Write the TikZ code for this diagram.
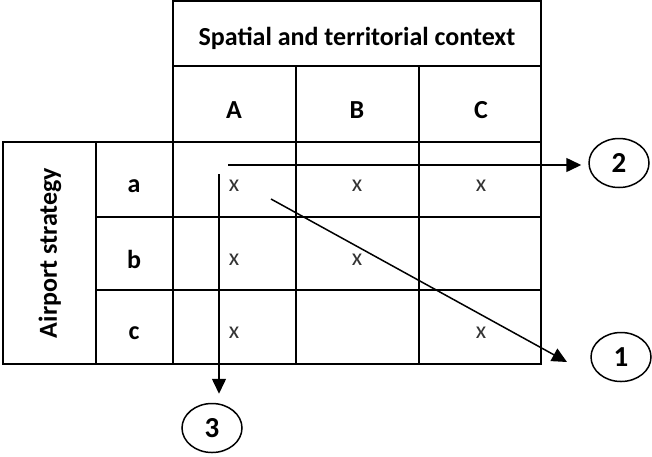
\documentclass[tikz,border=0pt]{standalone}
\usepackage{fontspec}
\setmainfont{Carlito}
\usetikzlibrary{arrows.meta,shapes.geometric}
\begin{document}
\begin{tikzpicture}[x=1pt,y=-1pt,line width=2pt]
\tikzstyle{every node}=[inner sep=1pt, font=\fontsize{26}{30}\selectfont\bfseries]
\tikzstyle{cross}=[font=\fontsize{24}{28}\selectfont, text=black!80]
\tikzstyle{num}=[draw, ellipse, line width=1.5pt, minimum width=60pt, minimum height=49pt, font=\fontsize{29}{32}\selectfont\bfseries]
\tikzstyle{link}=[line width=1.5pt, -{Triangle[length=15pt,width=14pt]}]
\useasboundingbox (0,0) rectangle (652,456);
% grid
\draw (173,1) rectangle (541,364);
\draw (3,142) rectangle (173,364);
\draw (173,66) -- (541,66);
\draw (173,142) -- (541,142);
\draw (96,217) -- (541,217);
\draw (96,290) -- (541,290);
\draw (96,142) -- (96,364);
\draw (296,66) -- (296,364);
\draw (419,66) -- (419,364);
% headers
\node (ctx) at (357,38) {Spatial and territorial context};
\node (cA) at (234,110) {A};
\node (cB) at (357,110) {B};
\node (cC) at (481,110) {C};
\node (air) at (50,253) [rotate=90] {Airport strategy};
\node (ra) at (134,186) {a};
\node (rb) at (134,259) {b};
\node (rc) at (134,333) {c};
% crosses
\node (xaA) at (234,186) [cross] {x};
\node (xaB) at (357,186) [cross] {x};
\node (xaC) at (481,186) [cross] {x};
\node (xbA) at (234,260) [cross] {x};
\node (xbB) at (357,260) [cross] {x};
\node (xcA) at (234,333) [cross] {x};
\node (xcC) at (481,333) [cross] {x};
% directions
\node (n1) at (621,357) [num] {1};
\node (n2) at (619,163) [num] {2};
\node (n3) at (212,428) [num] {3};
\coordinate (s1) at (271,199);
\coordinate (e1) at (567,362);
\coordinate (s2) at (228,165);
\coordinate (s3) at (219,174);
\draw[link] (s1) -- (e1);
\draw[link, shorten >=7pt] (s2) -- (s2 -| n2.west);
\draw[link, shorten >=9pt] (s3) -- (s3 |- n3.north);
\end{tikzpicture}
\end{document}
